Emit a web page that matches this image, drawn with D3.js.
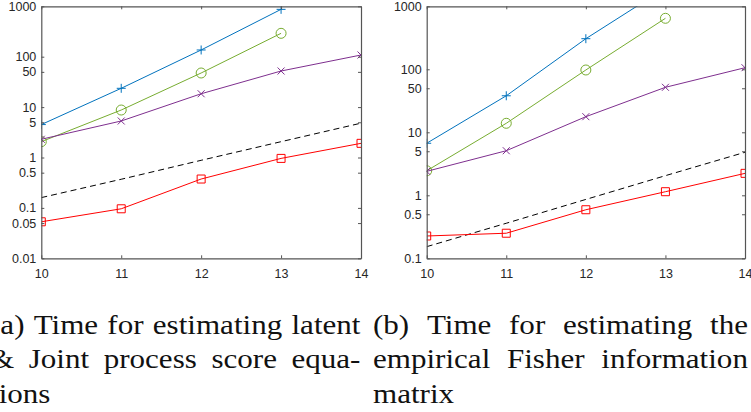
<!DOCTYPE html>
<html>
<head>
<meta charset="utf-8">
<script src="https://cdn.jsdelivr.net/npm/d3@7"></script>
<style>
  body { margin: 0; background: #fff; }
  svg { display: block; }
  .tick text { font-family: "Liberation Sans", Arial, sans-serif; font-size: 12.5px; fill: #262626; }
  .caption { font-family: "Liberation Serif", "DejaVu Serif", serif; font-size: 27.5px; fill: #111; }
</style>
</head>
<body>
<svg id="chart" width="751" height="412"></svg>
<script>
// x values (log2 of problem size, presumably)
const xs = [10, 11, 12, 13, 14];

// panel (a)
const blueA = [4.5, 23.6, 136, 870];
const greenA = [2.06, 8.75, 47.5, 291];
const purpleA = [2.3, 5.3, 18.4, 52, 108];
const redA = [0.053, 0.096, 0.374, 0.96, 1.91];
const refA = [0.16, 0.37, 0.88, 2.06, 4.8];
const yTicksA = [0.01, 0.05, 0.1, 0.5, 1, 5, 10, 50, 100, 1000];

// panel (b)
const blueB = [6.7, 38, 306, 1950];
const greenB = [2.45, 13.9, 97.5, 645];
const purpleB = [2.4, 5.1, 17.7, 51.8, 106];
const redB = [0.226, 0.25, 0.59, 1.14, 2.23];
const refB = [0.153, 0.36, 0.86, 2.05, 4.82];
const yTicksB = [0.1, 0.5, 1, 5, 10, 50, 100, 1000];

const captionA = [
  ["(a)", "Time", "for", "estimating", "latent"],
  ["&", "Joint", "process", "score", "equa-"],
  ["tions"]
];
const captionB = [
  ["(b)", "Time", "for", "estimating", "the"],
  ["empirical", "Fisher", "information"],
  ["matrix"]
];

const svg = d3.select("#chart");

const markers = {
  plus: "M-4.5,0H4.5M0,-4.5V4.5",
  cross: "M-3.5,-3.5L3.5,3.5M-3.5,3.5L3.5,-3.5",
  square: "M-4,-4H4V4H-4Z",
  circle: d3.symbol(d3.symbolCircle, Math.PI * 25)()
};

function panel(id, left, right, yDomain, yTicks, series) {
  const top = 6.3, bottom = 258.3;
  const x = d3.scaleLinear().domain([10, 14]).range([left, right]);
  const y = d3.scaleLog().domain(yDomain).range([bottom, top]);

  svg.append("clipPath").attr("id", "clip" + id)
    .append("rect")
    .attr("x", left).attr("y", top)
    .attr("width", right - left).attr("height", bottom - top);

  const g = svg.append("g").attr("clip-path", `url(#clip${id})`);
  const line = d3.line().x((d, i) => x(xs[i])).y(d => y(d));

  series.forEach(s => {
    g.append("path")
      .attr("d", line(s.values))
      .attr("fill", "none")
      .attr("stroke", s.color)
      .attr("stroke-width", 1)
      .attr("stroke-dasharray", s.dash || null);
    if (s.marker) {
      g.selectAll(null).data(s.values).enter().append("path")
        .attr("transform", (d, i) => `translate(${x(xs[i])},${y(d)})`)
        .attr("d", markers[s.marker])
        .attr("fill", "none")
        .attr("stroke", s.color)
        .attr("stroke-width", 1);
    }
  });

  const fmt = d => String(d);
  const axes = [
    svg.append("g").attr("transform", `translate(0,${bottom})`)
      .call(d3.axisBottom(x).tickValues(xs).tickFormat(fmt).tickSize(-3).tickSizeOuter(0).tickPadding(11)),
    svg.append("g").attr("transform", `translate(${left},0)`)
      .call(d3.axisLeft(y).tickValues(yTicks).tickFormat(fmt).tickSize(-3).tickSizeOuter(0).tickPadding(5)),
    svg.append("g").attr("transform", `translate(0,${top})`)
      .call(d3.axisTop(x).tickValues(xs).tickFormat("").tickSize(-3).tickSizeOuter(0)),
    svg.append("g").attr("transform", `translate(${right},0)`)
      .call(d3.axisRight(y).tickValues(yTicks).tickFormat("").tickSize(-3).tickSizeOuter(0))
  ];
  axes.forEach(a => {
    a.select(".domain").attr("stroke", "#555").attr("stroke-width", 1.2);
    a.selectAll(".tick line").attr("stroke", "#555").attr("stroke-width", 1);
  });
}

panel("A", 41.3, 361, [0.01, 1000], yTicksA, [
  {values: refA, color: "#000", dash: "6,4"},
  {values: blueA, color: "#0072BD", marker: "plus"},
  {values: greenA, color: "#77AC30", marker: "circle"},
  {values: purpleA, color: "#7E2F8E", marker: "cross"},
  {values: redA, color: "#FF0000", marker: "square"}
]);

panel("B", 426.7, 745, [0.1, 1000], yTicksB, [
  {values: refB, color: "#000", dash: "6,4"},
  {values: blueB, color: "#0072BD", marker: "plus"},
  {values: greenB, color: "#77AC30", marker: "circle"},
  {values: purpleB, color: "#7E2F8E", marker: "cross"},
  {values: redB, color: "#FF0000", marker: "square"}
]);

// justified captions: every line but the last is spread to the column width.
// the serif is stretched a bit so it is as wide as the reference's Computer Modern
const sx = 1.13;
function caption(lines, x0, x1) {
  const baselines = [333.5, 368, 402.5];
  lines.forEach((words, li) => {
    const t = svg.append("g");
    const nodes = words.map(w => t.append("text").attr("class", "caption").text(w));
    const widths = nodes.map(n => n.node().getComputedTextLength() * sx);
    const total = d3.sum(widths);
    const last = li === lines.length - 1;
    const gap = (last || words.length < 2) ? 8 : (x1 - x0 - total) / (words.length - 1);
    let cx = x0;
    nodes.forEach((n, i) => {
      n.attr("transform", `translate(${cx},${baselines[li]}) scale(${sx},1)`);
      cx += widths[i] + gap;
    });
  });
}

caption(captionA, -10, 360.5);
caption(captionB, 373, 748);
</script>
</body>
</html>
